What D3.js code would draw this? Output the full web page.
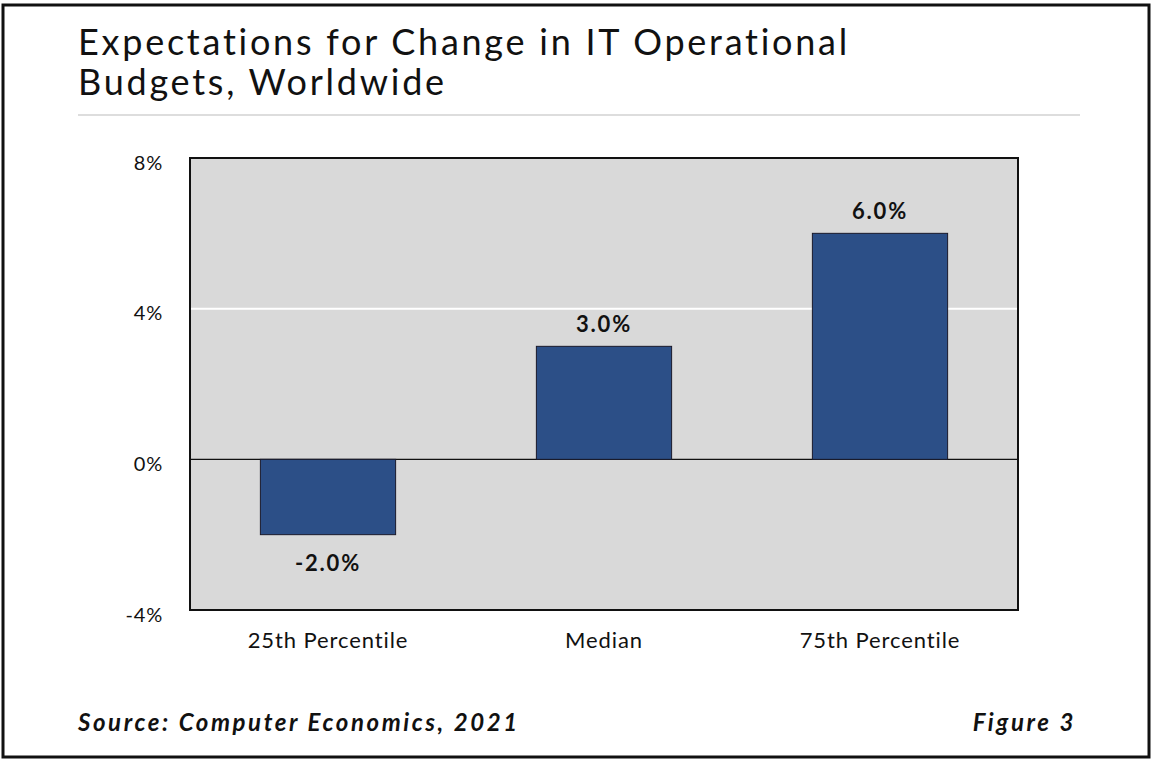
<!DOCTYPE html>
<html>
<head>
<meta charset="utf-8">
<script src="https://cdn.jsdelivr.net/npm/d3@7"></script>
<style>
  body { margin: 0; background: #fff; }
  svg { display: block; }
</style>
</head>
<body>
<div id="chart"></div>
<script>
const categories = ['25th Percentile', 'Median', '75th Percentile'];
const values = [-2.0, 3.0, 6.0];
const yTicks = [-4, 0, 4, 8];

const width = 1152, height = 768;
const plot = { left: 190, right: 1018, top: 158, bottom: 610 };

const svg = d3.select('#chart').append('svg')
    .attr('width', width)
    .attr('height', height);

// outer frame
svg.append('rect')
    .attr('x', 3).attr('y', 5)
    .attr('width', 1146).attr('height', 752)
    .attr('fill', '#fff')
    .attr('stroke', '#111')
    .attr('stroke-width', 3);

// title
const title = svg.append('text')
    .attr('font-family', 'Lato, sans-serif')
    .attr('font-size', 36)
    .attr('letter-spacing', 2.75)
    .attr('fill', '#111');
title.append('tspan').attr('x', 78).attr('y', 55).text('Expectations for Change in IT Operational');
title.append('tspan').attr('x', 78).attr('y', 95).text('Budgets, Worldwide');

svg.append('line')
    .attr('x1', 78).attr('x2', 1080)
    .attr('y1', 115).attr('y2', 115)
    .attr('stroke', '#ddd')
    .attr('stroke-width', 2);

const x = d3.scaleBand()
    .domain(categories)
    .range([plot.left, plot.right])
    .paddingInner(0.51)
    .paddingOuter(0.255);

const y = d3.scaleLinear()
    .domain([-4, 8])
    .range([plot.bottom, plot.top]);

// plot background
svg.append('rect')
    .attr('x', plot.left).attr('y', plot.top)
    .attr('width', plot.right - plot.left)
    .attr('height', plot.bottom - plot.top)
    .attr('fill', '#d9d9d9');

// gridlines
svg.selectAll('.grid')
    .data(yTicks.filter(d => d !== 0 && d !== -4 && d !== 8))
    .enter().append('line')
    .attr('class', 'grid')
    .attr('x1', plot.left).attr('x2', plot.right)
    .attr('y1', d => y(d)).attr('y2', d => y(d))
    .attr('stroke', '#fff')
    .attr('stroke-width', 2);

// zero line
svg.append('line')
    .attr('x1', plot.left).attr('x2', plot.right)
    .attr('y1', y(0)).attr('y2', y(0))
    .attr('stroke', '#111')
    .attr('stroke-width', 1.2);

// bars
svg.selectAll('.bar')
    .data(values)
    .enter().append('rect')
    .attr('class', 'bar')
    .attr('x', (d, i) => x(categories[i]))
    .attr('width', x.bandwidth())
    .attr('y', d => y(Math.max(0, d)))
    .attr('height', d => Math.abs(y(d) - y(0)))
    .attr('fill', '#2c4f87')
    .attr('stroke', '#1a1a2a')
    .attr('stroke-width', 1);

// value labels
svg.selectAll('.val')
    .data(values)
    .enter().append('text')
    .attr('class', 'val')
    .attr('x', (d, i) => x(categories[i]) + x.bandwidth() / 2)
    .attr('y', d => d >= 0 ? y(d) - 14 : y(d) + 36)
    .attr('text-anchor', 'middle')
    .attr('font-family', 'Lato, sans-serif')
    .attr('font-weight', 'bold')
    .attr('font-size', 22)
    .attr('letter-spacing', 1.8)
    .attr('fill', '#111')
    .text(d => d.toFixed(1) + '%');

// plot frame
svg.append('rect')
    .attr('x', plot.left).attr('y', plot.top)
    .attr('width', plot.right - plot.left)
    .attr('height', plot.bottom - plot.top)
    .attr('fill', 'none')
    .attr('stroke', '#111')
    .attr('stroke-width', 2);

// y axis labels
const yAxis = d3.axisLeft(y).tickValues(yTicks).tickSize(0).tickPadding(27)
    .tickFormat(d => d + '%');
svg.append('g')
    .attr('transform', 'translate(' + plot.left + ',0)')
    .call(yAxis)
    .call(g => g.select('.domain').remove())
    .selectAll('text')
    .attr('font-family', 'Lato, sans-serif')
    .attr('font-size', 20)
    .attr('letter-spacing', 0.8)
    .attr('fill', '#111')
    .attr('dy', '0.55em');

// x axis labels
const xAxis = d3.axisBottom(x).tickSize(0).tickPadding(22);
svg.append('g')
    .attr('transform', 'translate(0,' + plot.bottom + ')')
    .call(xAxis)
    .call(g => g.select('.domain').remove())
    .selectAll('text')
    .attr('font-family', 'Lato, sans-serif')
    .attr('font-size', 22)
    .attr('letter-spacing', 0.9)
    .attr('fill', '#111');

// footer
svg.append('text')
    .attr('x', 78).attr('y', 731)
    .attr('font-family', 'Lato, sans-serif')
    .attr('font-style', 'italic')
    .attr('font-weight', 'bold')
    .attr('font-size', 24)
    .attr('letter-spacing', 2.6)
    .attr('fill', '#111')
    .text('Source: Computer Economics, 2021');

svg.append('text')
    .attr('x', 1076).attr('y', 731)
    .attr('text-anchor', 'end')
    .attr('font-family', 'Lato, sans-serif')
    .attr('font-style', 'italic')
    .attr('font-weight', 'bold')
    .attr('font-size', 24)
    .attr('letter-spacing', 2.6)
    .attr('fill', '#111')
    .text('Figure 3');
</script>
</body>
</html>
